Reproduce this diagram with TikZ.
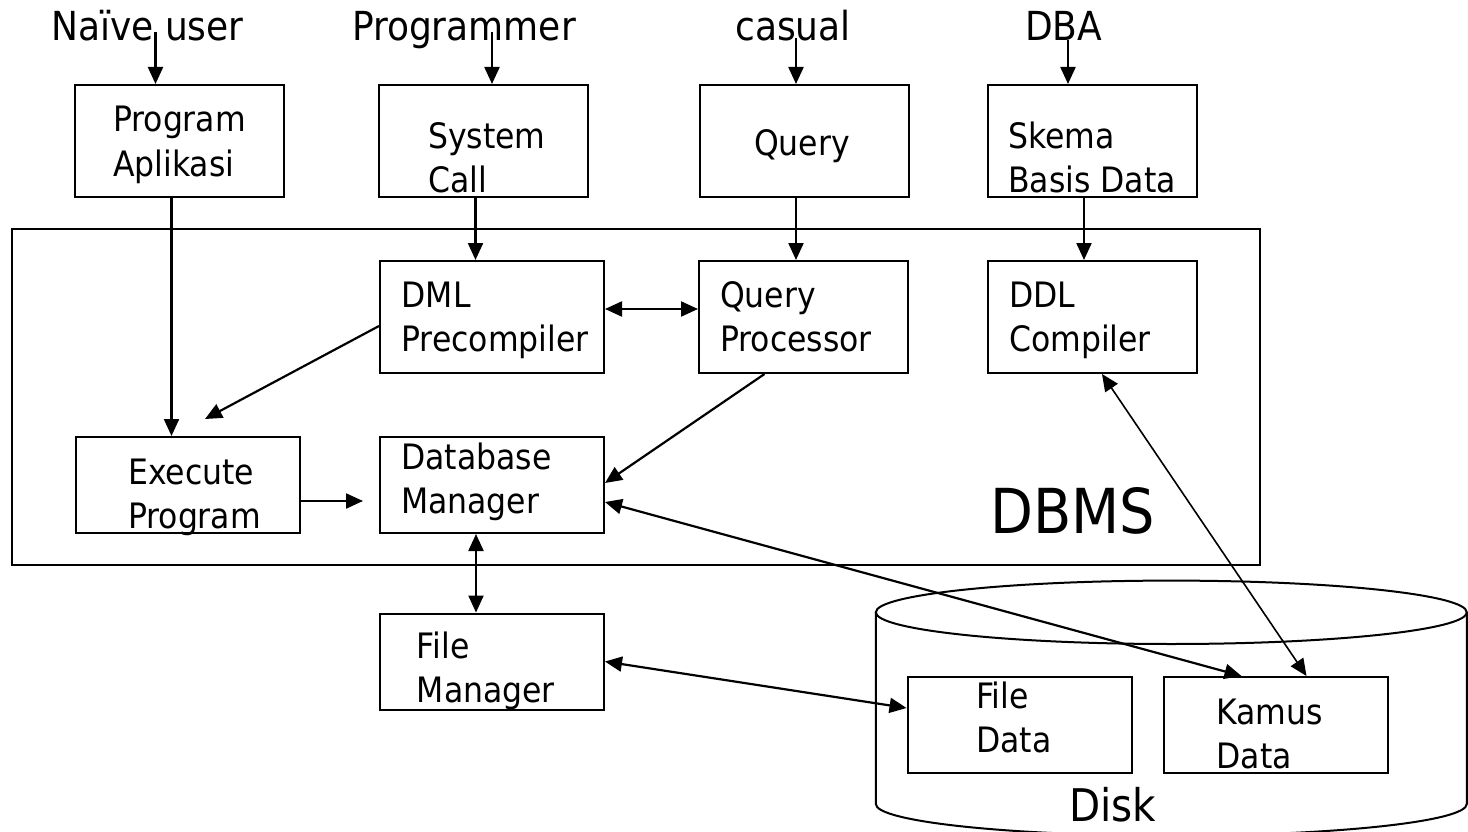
\documentclass[tikz,border=0pt]{standalone}
\usepackage{fontspec}
\setmainfont{DejaVu Sans Condensed}
\usetikzlibrary{arrows.meta}
\tikzset{
    >={Triangle[length=17pt,width=15pt]},
    kotak/.style={rectangle, draw=black, line width=2pt, inner sep=0pt},
    sempit/.style={kotak, minimum width=209pt, minimum height=112pt},
    lebar/.style={kotak, minimum width=224pt, minimum height=112pt},
    pendek/.style={kotak, minimum width=224pt, minimum height=96pt},
    teks/.style={align=left, inner sep=0pt, anchor=base west,
                 font=\fontsize{35}{44}\selectfont},
    pengguna/.style={inner sep=0pt, anchor=base, font=\fontsize{40}{48}\selectfont},
    panah/.style={draw, line width=2.2pt},
    tipis/.style={draw, line width=1.6pt}
}

\begin{document}
\begin{tikzpicture}[x=1pt, y=-1pt]
\useasboundingbox (0,0) rectangle (1468,832);

% pengguna
\node[pengguna] (naive) at (147.5,41) {Naïve user};
\node[pengguna] (programmer) at (464,41) {Programmer};
\node[pengguna] (casual) at (793,41) {casual};
\node[pengguna] (dba) at (1063.5,41) {DBA};

% kotak DBMS
\node[kotak, minimum width=1248pt, minimum height=336pt] (dbms) at (636,397) {};
\node[teks, font=\fontsize{62}{74}\selectfont] (dbms-t) at (990,533.3) {DBMS};

% baris atas (base = baris terakhir)
\node[sempit] (aplikasi) at (179.5,141) {};
\node[teks] (aplikasi-t) at (113,176) {Program\\Aplikasi};
\node[sempit] (syscall) at (483.5,141) {};
\node[teks] (syscall-t) at (428,193) {System\\Call};
\node[sempit] (query) at (804,141) {};
\node[teks] (query-t) at (754,156) {Query};
\node[sempit] (skema) at (1092,141) {};
\node[teks] (skema-t) at (1008,193) {Skema\\Basis Data};

% di dalam DBMS
\node[lebar] (dml) at (492,317) {};
\node[teks] (dml-t) at (401.4,351.7) {DML\\Precompiler};
\node[sempit] (qp) at (803.5,317) {};
\node[teks] (qp-t) at (720,351.7) {Query\\Processor};
\node[sempit] (ddl) at (1092,317) {};
\node[teks] (ddl-t) at (1009,351.7) {DDL\\Compiler};
\node[pendek] (execute) at (188,485) {};
\node[teks] (execute-t) at (128,528.3) {Execute\\Program};
\node[pendek] (dbm) at (492,485) {};
\node[teks] (dbm-t) at (401,513) {Database\\Manager};

% bawah
\node[pendek] (filemgr) at (492,661.5) {};
\node[teks] (filemgr-t) at (416.7,702.7) {File\\Manager};

% disk
\draw[line width=2pt] (1171.3,612.3) ellipse [x radius=295.5pt, y radius=31.7pt];
\draw[line width=2pt] (875.8,612.3) -- (875.8,804)
    arc[start angle=180, end angle=360, x radius=295.5pt, y radius=31.7pt] -- (1466.8,612.3);
\node[teks, font=\fontsize{45}{54}\selectfont] (disk) at (1069,821.7) {Disk};
\node[pendek] (filedata) at (1019.5,725) {};
\node[teks] (filedata-t) at (976,752.3) {File\\Data};
\node[pendek] (kamus) at (1275.5,725) {};
\node[teks] (kamus-t) at (1216.3,768.3) {Kamus\\Data};

% panah dari pengguna
\coordinate (naive-a) at ([xshift=8pt,yshift=9pt]naive.base);
\coordinate (programmer-a) at ([xshift=28pt,yshift=9pt]programmer.base);
\coordinate (casual-a) at ([xshift=3pt,yshift=3pt]casual.base);
\coordinate (dba-a) at ([xshift=4.5pt,yshift=1pt]dba.base);
\draw[panah,->] (naive-a) -- (naive-a |- aplikasi.north);
\draw[panah,->] (programmer-a) -- (programmer-a |- syscall.north);
\draw[panah,->] (casual-a) -- (casual-a |- query.north);
\draw[panah,->] (dba-a) -- (dba-a |- skema.north);

% panah ke DBMS
\draw[panah,->] ([xshift=-8pt]aplikasi.south) -- ([xshift=-8pt]aplikasi.south |- execute.north);
\draw[panah,->] ([xshift=-8pt]syscall.south) -- ([xshift=-8pt]syscall.south |- dml.north);
\draw[panah,->] ([xshift=-8pt]query.south) -- ([xshift=-8pt]query.south |- qp.north);
\draw[panah,->] ([xshift=-8pt]skema.south) -- ([xshift=-8pt]skema.south |- ddl.north);

% panah di dalam DBMS
\draw[panah,<->] ([yshift=8pt]dml.east) -- ([yshift=8pt]dml.east -| qp.west);
\draw[panah,->] ([yshift=-9pt]dml.west) -- ([xshift=17pt,yshift=17pt]execute.north);
\draw[panah,->] ([xshift=-39pt]qp.south) -- ([yshift=2pt]dbm.east);
\draw[panah,->, shorten >=16pt] ([yshift=-16pt]execute.east) -- ([yshift=-16pt]execute.east -| dbm.west);

% panah ke disk
\draw[panah,<->] ([xshift=-16pt]dbm.south) -- ([xshift=-16pt]dbm.south |- filemgr.north);
\draw[panah,<->] (filemgr.east) -- ([yshift=17pt]filedata.west);
\draw[panah,<->] ([yshift=-17pt]dbm.east) -- ([xshift=-34pt]kamus.north);
\draw[tipis,<->] ([xshift=10pt]ddl.south) -- ([xshift=31pt]kamus.north);
\end{tikzpicture}
\end{document}
